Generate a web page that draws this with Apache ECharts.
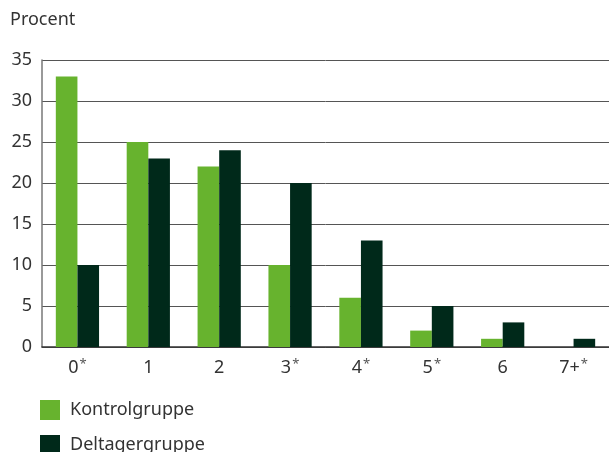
<!DOCTYPE html>
<html><head><meta charset="utf-8">
<script src="https://cdn.jsdelivr.net/npm/echarts@6/dist/echarts.min.js"></script>
<style>html,body{margin:0;padding:0;background:#fff}#c{width:609px;height:452px}</style>
</head><body><div id="c"></div>
<script>
const categories = ['0*','1','2','3*','4*','5*','6','7+*'];
const kontrol = [33,25,22,10,6,2,1,0];
const deltager = [10,23,24,20,13,5,3,1];
const yTicks = [0,5,10,15,20,25,30,35];
const chart = echarts.init(document.getElementById('c'));
const font = 'Noto Sans';
const legendBase = {left:35,itemWidth:20,itemHeight:20,icon:'rect',
    textStyle:{fontFamily:font,fontSize:18,color:'#333',padding:[0,0,0,5]}};
chart.setOption({
  animation:false,
  textStyle:{fontFamily:font},
  title:{text:'Procent',left:5,top:6,textStyle:{fontFamily:font,fontSize:18,fontWeight:'normal',color:'#333'}},
  legend:[
    Object.assign({},legendBase,{top:395,data:['Kontrolgruppe']}),
    Object.assign({},legendBase,{top:430,data:['Deltagergruppe']})
  ],
  grid:{left:42,right:0,top:60,bottom:105,containLabel:false},
  xAxis:{type:'category',data:categories,
    axisLine:{lineStyle:{color:'#333',width:1.5}},axisTick:{show:false},
    axisLabel:{interval:0,hideOverlap:false,fontFamily:font,fontSize:18,color:'#333',margin:10,
      formatter:v=>v.endsWith('*')?'{n|'+v.slice(0,-1)+'}{s|*}':'{n|'+v+'}',
      rich:{n:{fontFamily:font,fontSize:18,color:'#333',lineHeight:22},
            s:{fontFamily:font,fontSize:13,color:'#555',lineHeight:22,padding:[0,0,8,1]}}}},
  yAxis:{type:'value',min:0,max:35,interval:5,
    axisLine:{show:true,lineStyle:{color:'#777',width:1.5}},axisTick:{show:false},
    axisLabel:{fontFamily:font,fontSize:18,color:'#333',margin:10,formatter:v=>yTicks.includes(v)?String(v):''},
    splitLine:{lineStyle:{color:'#555',width:1}}},
  series:[
    {name:'Kontrolgruppe',type:'bar',data:kontrol,itemStyle:{color:'#67b32e'},barGap:'0%',barCategoryGap:'39%'},
    {name:'Deltagergruppe',type:'bar',data:deltager,itemStyle:{color:'#00291a'}}
  ]
});
</script></body></html>
